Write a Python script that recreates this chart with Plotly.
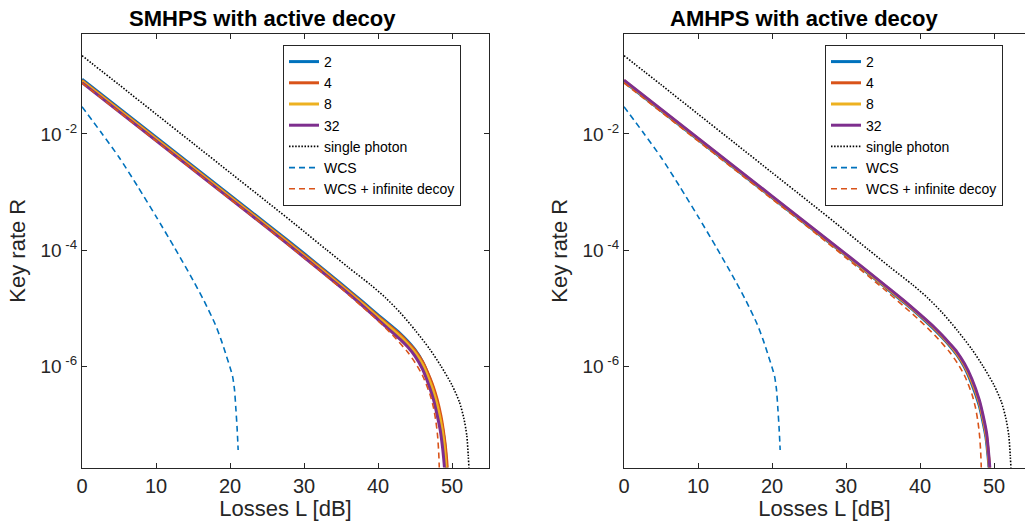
import plotly.graph_objects as go

# ---------------- data ----------------
# Losses L [dB] and key rate R for each series
# SMHPS panel
smhps_2_L = [0, 5, 10, 15, 20, 25, 30, 35, 38, 40, 43, 44, 45, 46, 47, 47.5, 48, 48.5, 48.9, 49.1, 49.3, 49.4]
smhps_2_R = [8.81e-2, 2.79e-2, 8.81e-3, 2.79e-3, 8.81e-4, 2.79e-4, 8.71e-5, 2.63e-5, 1.26e-5, 7.59e-6,
             3.63e-6, 2.69e-6, 1.91e-6, 1.20e-6, 6.03e-7, 3.98e-7, 2.34e-7, 1.20e-7, 6.03e-8, 3.63e-8,
             1.58e-8, 1e-9]

smhps_4_L = [0, 5, 10, 15, 20, 25, 30, 35, 38, 40, 43, 44, 45, 46, 47, 47.5, 48, 48.5, 49.0, 49.2, 49.38, 49.5]
smhps_4_R = [8.41e-2, 2.66e-2, 8.41e-3, 2.66e-3, 8.41e-4, 2.66e-4, 8.32e-5, 2.51e-5, 1.20e-5, 7.24e-6,
             3.47e-6, 2.57e-6, 1.86e-6, 1.20e-6, 6.31e-7, 4.27e-7, 2.63e-7, 1.38e-7, 5.37e-8, 3.16e-8,
             1.58e-8, 1e-9]

smhps_8_L = [0, 5, 10, 15, 20, 25, 30, 35, 38, 40, 43, 44, 45, 46, 47, 47.5, 48, 48.5, 48.8, 49.0, 49.2, 49.3]
smhps_8_R = [8.13e-2, 2.57e-2, 8.13e-3, 2.57e-3, 8.13e-4, 2.57e-4, 7.94e-5, 2.40e-5, 1.15e-5, 6.92e-6,
             3.24e-6, 2.40e-6, 1.70e-6, 1.07e-6, 5.37e-7, 3.55e-7, 2.09e-7, 1.05e-7, 6.03e-8, 3.55e-8,
             1.58e-8, 1e-9]

smhps_32_L = [0, 5, 10, 15, 20, 25, 30, 35, 38, 40, 43, 44, 45, 46, 47, 47.5, 48, 48.4, 48.7, 48.85, 49.0, 49.1]
smhps_32_R = [7.67e-2, 2.43e-2, 7.67e-3, 2.43e-3, 7.67e-4, 2.43e-4, 7.50e-5, 2.26e-5, 1.07e-5, 6.31e-6,
              2.88e-6, 2.14e-6, 1.48e-6, 8.91e-7, 4.17e-7, 2.63e-7, 1.41e-7, 7.94e-8, 4.17e-8, 2.75e-8,
              1.58e-8, 1e-9]

# AMHPS panel
amhps_2_L = [0, 5, 10, 15, 20, 25, 30, 35, 38, 40, 42, 43, 44, 45, 46, 47, 48, 48.5, 48.9, 49.15, 49.35, 49.45]
amhps_2_R = [8.04e-2, 2.54e-2, 8.04e-3, 2.54e-3, 8.04e-4, 2.54e-4, 8.04e-5, 2.45e-5, 1.20e-5, 7.24e-6,
             4.17e-6, 3.09e-6, 2.24e-6, 1.55e-6, 9.55e-7, 4.90e-7, 2.09e-7, 1.10e-7, 6.03e-8, 3.16e-8,
             1.58e-8, 1e-9]

amhps_4_L = [0, 5, 10, 15, 20, 25, 30, 35, 38, 40, 42, 43, 44, 45, 46, 47, 48, 48.5, 49, 49.2, 49.4, 49.5]
amhps_4_R = [8.22e-2, 2.60e-2, 8.22e-3, 2.60e-3, 8.22e-4, 2.60e-4, 8.22e-5, 2.54e-5, 1.24e-5, 7.50e-6,
             4.37e-6, 3.24e-6, 2.34e-6, 1.62e-6, 1.02e-6, 5.37e-7, 2.34e-7, 1.26e-7, 5.75e-8, 3.31e-8,
             1.58e-8, 1e-9]

amhps_8_L = [0, 5, 10, 15, 20, 25, 30, 35, 38, 40, 42, 43, 44, 45, 46, 47, 48, 48.5, 49, 49.2, 49.42, 49.52]
amhps_8_R = [8.32e-2, 2.63e-2, 8.32e-3, 2.63e-3, 8.32e-4, 2.63e-4, 8.32e-5, 2.57e-5, 1.26e-5, 7.59e-6,
             4.47e-6, 3.31e-6, 2.40e-6, 1.66e-6, 1.05e-6, 5.62e-7, 2.45e-7, 1.32e-7, 6.17e-8, 3.55e-8,
             1.58e-8, 1e-9]

amhps_32_L = [0, 5, 10, 15, 20, 25, 30, 35, 38, 40, 42, 43, 44, 45, 46, 47, 48, 48.5, 49, 49.2, 49.45, 49.55]
amhps_32_R = [8.51e-2, 2.69e-2, 8.51e-3, 2.69e-3, 8.51e-4, 2.69e-4, 8.51e-5, 2.63e-5, 1.29e-5, 7.76e-6,
              4.57e-6, 3.39e-6, 2.45e-6, 1.74e-6, 1.10e-6, 6.03e-7, 2.63e-7, 1.45e-7, 6.92e-8, 3.98e-8,
              1.58e-8, 1e-9]

# reference curves (same in both panels)
single_L = [0, 5, 10, 15, 20, 25, 30, 33, 36, 39, 41, 43, 45, 47, 48.5, 50, 51, 51.6, 52, 52.2, 52.3, 52.4]
single_R = [2.24e-1, 7.08e-2, 2.21e-2, 6.92e-3, 2.16e-3, 6.76e-4, 2.09e-4, 1.02e-4, 5.01e-5, 2.51e-5,
            1.51e-5, 8.32e-6, 4.17e-6, 1.95e-6, 1.00e-6, 4.68e-7, 2.40e-7, 1.26e-7, 6.31e-8, 2.82e-8,
            1.58e-8, 1e-9]

wcs_L = [0, 2.5, 5, 7.5, 10, 12.5, 15, 16.5, 18, 18.8, 19.5, 20, 20.35, 20.6, 20.8, 20.95, 21.05, 21.1]
wcs_R = [2.95e-2, 1.10e-2, 3.98e-3, 1.26e-3, 3.80e-4, 1.10e-4, 3.02e-5, 1.32e-5, 5.25e-6, 2.82e-6,
         1.51e-6, 9.55e-7, 6.61e-7, 3.98e-7, 1.78e-7, 8.91e-8, 5.01e-8, 3.55e-8]

wcs_inf_L = [0, 5, 10, 15, 20, 25, 30, 35, 38, 40, 42, 44, 45, 46, 47, 47.5, 47.85, 48.05, 48.2, 48.3, 48.4]
wcs_inf_R = [7.59e-2, 2.40e-2, 7.59e-3, 2.40e-3, 7.59e-4, 2.40e-4, 7.33e-5, 2.19e-5, 1.02e-5, 6.03e-6,
             3.39e-6, 1.74e-6, 1.15e-6, 6.92e-7, 3.31e-7, 1.91e-7, 1.05e-7, 6.31e-8, 3.31e-8, 1.41e-8, 1e-9]

series_names = ["2", "4", "8", "32"]
titles = ["SMHPS with active decoy", "AMHPS with active decoy"]
x_ticks = [0, 10, 20, 30, 40, 50]
y_ticks = [1e-2, 1e-4, 1e-6]
y_ticktext = ["10<sup> -2</sup>", "10<sup> -4</sup>", "10<sup> -6</sup>"]

# ---------------- styling ----------------
colors = ["#0072BD", "#D95319", "#EDB120", "#7E2F8E"]
FONT = "Liberation Sans, Arial, Helvetica, sans-serif"
AX = "#262626"
W, H = 1025, 528

fig = go.Figure()

panels = [
    ([(smhps_2_L, smhps_2_R), (smhps_4_L, smhps_4_R), (smhps_8_L, smhps_8_R), (smhps_32_L, smhps_32_R)], "x", "y", "legend"),
    ([(amhps_2_L, amhps_2_R), (amhps_4_L, amhps_4_R), (amhps_8_L, amhps_8_R), (amhps_32_L, amhps_32_R)], "x2", "y2", "legend2"),
]

SM = 0.7
for solids, xa, ya, lg in panels:
    for (L, R), name, c in zip(solids, series_names, colors):
        fig.add_trace(go.Scatter(x=L, y=R, mode="lines", name=name, xaxis=xa, yaxis=ya, legend=lg,
                                 line=dict(color=c, width=3, shape="spline", smoothing=SM)))
    fig.add_trace(go.Scatter(x=single_L, y=single_R, mode="lines", name="single photon", xaxis=xa, yaxis=ya,
                             legend=lg, line=dict(color="black", width=1.6, dash="1.5px,1.6px",
                                                  shape="spline", smoothing=SM)))
    fig.add_trace(go.Scatter(x=wcs_L, y=wcs_R, mode="lines", name="WCS", xaxis=xa, yaxis=ya, legend=lg,
                             line=dict(color=colors[0], width=1.6, dash="6px,4px", shape="spline",
                                       smoothing=SM)))
    fig.add_trace(go.Scatter(x=wcs_inf_L, y=wcs_inf_R, mode="lines", name="WCS + infinite decoy", xaxis=xa,
                             yaxis=ya, legend=lg, line=dict(color=colors[1], width=1.6, dash="6px,4px",
                                                            shape="spline", smoothing=SM)))

ydom = [1 - 467.5 / H, 1 - 34 / H]
yrange = [-7.75, -0.276]

common_x = dict(tickvals=x_ticks, ticks="inside", ticklen=5, tickcolor=AX, showline=True, linecolor=AX,
                linewidth=1, showgrid=False, zeroline=False, automargin=False,
                tickfont=dict(family=FONT, size=20, color=AX),
                title=dict(text="Losses L [dB]", font=dict(family=FONT, size=22, color=AX), standoff=4))
common_y = dict(type="log", range=yrange, domain=ydom, tickvals=y_ticks, ticktext=y_ticktext, ticks="inside",
                ticklen=5, tickcolor=AX, showline=True, linecolor=AX, linewidth=1, showgrid=False,
                zeroline=False, automargin=False, tickfont=dict(family=FONT, size=19, color=AX),
                title=dict(text="Key rate R", font=dict(family=FONT, size=22, color=AX), standoff=8))

fig.update_layout(
    width=W, height=H,
    margin=dict(l=0, r=0, t=0, b=0, autoexpand=False),
    paper_bgcolor="white", plot_bgcolor="white",
    font=dict(family=FONT, color=AX),
    xaxis=dict(domain=[82 / W, 489 / W], range=[0, 55], anchor="y", mirror="ticks", **common_x),
    yaxis=dict(anchor="x", mirror="ticks", **common_y),
    xaxis2=dict(domain=[624 / W, 1.0], range=[0, 55 * (W - 624) / 407], anchor="y2", mirror="ticks", **common_x),
    yaxis2=dict(anchor="x2", mirror=False, **common_y),
    legend=dict(x=283 / W, y=1 - 45 / H, xanchor="left", yanchor="top", bgcolor="white",
                bordercolor=AX, borderwidth=1, font=dict(family=FONT, size=14, color="black"),
                tracegroupgap=0),
    legend2=dict(x=825 / W, y=1 - 45 / H, xanchor="left", yanchor="top", bgcolor="white",
                 bordercolor=AX, borderwidth=1, font=dict(family=FONT, size=14, color="black"),
                 tracegroupgap=0),
    showlegend=True,
)

for t, cx in zip(titles, [262, 804]):
    fig.add_annotation(text="<b>" + t + "</b>", x=cx / W, y=1 - 18.5 / H, xref="paper", yref="paper",
                       xanchor="center", yanchor="middle", showarrow=False,
                       font=dict(family=FONT, size=22, color="black"))

fig.write_html("out.html")
